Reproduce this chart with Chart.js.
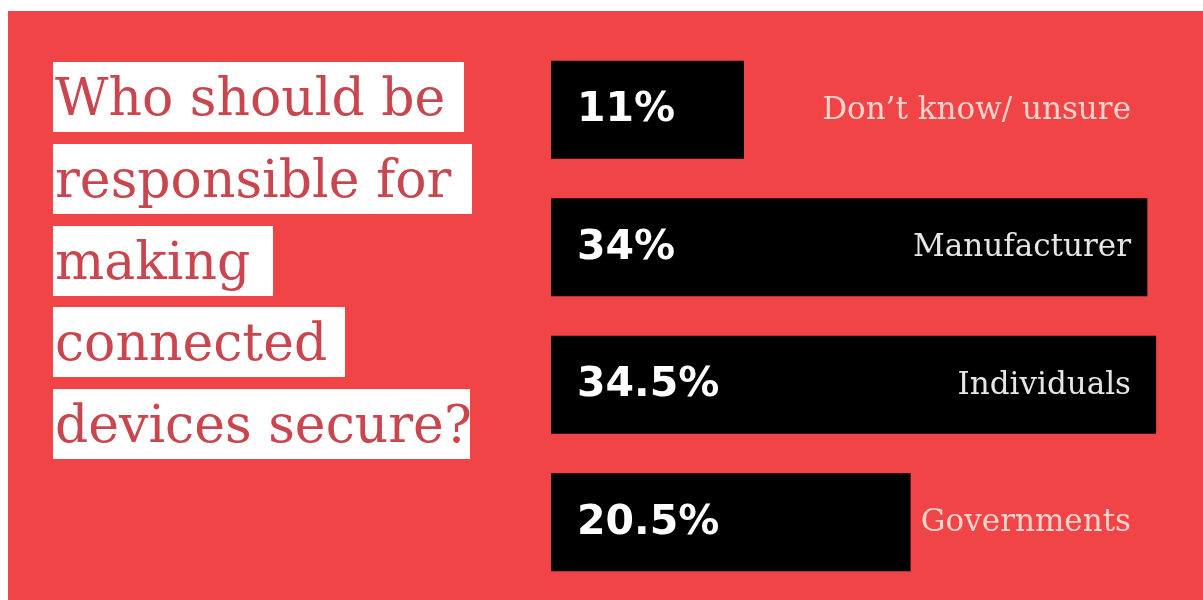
<!DOCTYPE html>
<html><head><meta charset="utf-8">
<script src="https://cdn.jsdelivr.net/npm/chart.js@4"></script>
<style>
html,body{margin:0;padding:0;background:#fff;width:1203px;height:600px;overflow:hidden;}
#bg{position:absolute;left:8px;top:11px;width:1195px;height:589px;background:#f04446;}
#chartWrap{position:absolute;left:0;top:0;width:1203px;height:600px;}
#title{position:absolute;left:0;top:0;z-index:2;}
.tl{position:absolute;left:53px;height:70px;line-height:70px;background:#fff;color:#c9464e;font-family:"DejaVu Serif";font-size:52px;padding-left:2px;white-space:pre;box-sizing:border-box;}
</style></head>
<body>
<div id="bg"></div>
<div id="chartWrap"><canvas id="c" width="1203" height="600"></canvas></div>
<div id="title"></div>
<script>
const categories = ["Don\u2019t know/ unsure", "Manufacturer", "Individuals", "Governments"];
const values = [11, 34, 34.5, 20.5];
const valueLabels = ["11%", "34%", "34.5%", "20.5%"];
const titleLines = ["Who should be", "responsible for", "making", "connected", "devices secure?"];

// layout of title boxes (top, width)
const boxTops = [62, 144, 226, 307, 389];
const boxWidths = [411, 419, 220, 292, 417];
const titleEl = document.getElementById('title');
titleLines.forEach((t, i) => {
  const d = document.createElement('div');
  d.className = 'tl';
  d.textContent = t;
  d.style.top = boxTops[i] + 'px';
  d.style.width = boxWidths[i] + 'px';
  titleEl.appendChild(d);
});

const labelPlugin = {
  id: 'barLabels',
  afterDatasetsDraw(chart) {
    const ctx = chart.ctx;
    const meta = chart.getDatasetMeta(0);
    const labelRight = 1131;
    meta.data.forEach((bar, i) => {
      ctx.save();
      ctx.textBaseline = 'middle';
      ctx.textAlign = 'left';
      ctx.fillStyle = '#ffffff';
      ctx.font = 'bold 41px "DejaVu Sans"';
      ctx.fillText(valueLabels[i], bar.base + 26, bar.y + 1);
      ctx.textAlign = 'right';
      ctx.font = '31px "DejaVu Serif"';
      ctx.fillStyle = bar.x > labelRight ? '#e6e6e6' : '#f9d3cd';
      ctx.fillText(chart.data.labels[i], labelRight, bar.y + 1);
      ctx.restore();
    });
  }
};

new Chart(document.getElementById('c'), {
  type: 'bar',
  data: {
    labels: categories,
    datasets: [{
      data: values,
      backgroundColor: '#000000',
      borderWidth: 0,
      barPercentage: 0.713,
      categoryPercentage: 1
    }]
  },
  options: {
    indexAxis: 'y',
    responsive: false,
    maintainAspectRatio: false,
    animation: false,
    layout: { padding: { left: 551, right: 3, top: 41, bottom: 9 } },
    scales: {
      x: { display: false, min: 0, max: 37 },
      y: { display: false }
    },
    plugins: { legend: { display: false }, tooltip: { enabled: false } }
  },
  plugins: [labelPlugin]
});
</script>
</body></html>
